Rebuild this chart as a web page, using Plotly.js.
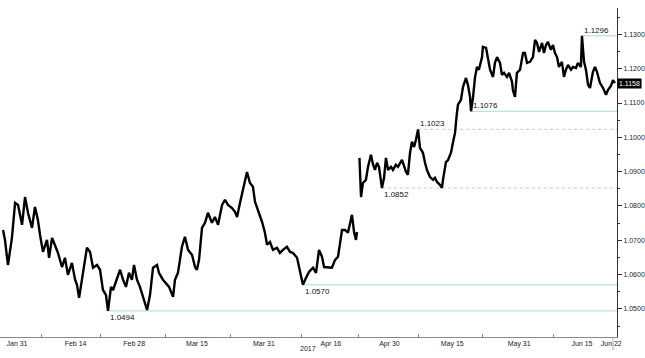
<!DOCTYPE html>
<html>
<head>
<meta charset="utf-8">
<script src="https://cdn.plot.ly/plotly-3.0.1.min.js"></script>
<style>html,body{margin:0;padding:0;background:#fff;}#chart{width:645px;height:358px;}</style>
</head>
<body>
<div id="chart"></div>
<script>
// EUR/USD, late Jan - Jun 2017
const dates = [
"2017-01-27 16:00","2017-01-28 03:00","2017-01-28 20:00","2017-01-29 19:00","2017-01-30 13:00","2017-01-31 06:00","2017-02-01 05:00","2017-02-01 22:00","2017-02-02 15:00","2017-02-03 14:00",
"2017-02-04 07:00","2017-02-05 00:00","2017-02-05 12:00","2017-02-06 05:00","2017-02-07 04:00","2017-02-07 16:00","2017-02-08 09:00","2017-02-09 02:00","2017-02-09 19:00","2017-02-10 18:00",
"2017-02-11 11:00","2017-02-12 04:00","2017-02-13 03:00","2017-02-13 21:00","2017-02-14 08:00","2017-02-14 20:00","2017-02-15 13:00","2017-02-16 06:00","2017-02-16 17:00","2017-02-17 11:00",
"2017-02-18 04:00","2017-02-19 03:00","2017-02-19 20:00","2017-02-20 13:00","2017-02-21 06:00","2017-02-21 18:00","2017-02-22 11:00","2017-02-22 23:00","2017-02-23 21:00","2017-02-24 15:00",
"2017-02-25 08:00","2017-02-26 01:00","2017-02-26 18:00","2017-02-27 11:00","2017-02-27 23:00","2017-02-28 16:00","2017-03-01 09:00","2017-03-02 03:00","2017-03-03 02:00","2017-03-03 19:00",
"2017-03-04 12:00","2017-03-05 11:00","2017-03-05 22:00","2017-03-06 21:00","2017-03-07 14:00","2017-03-08 08:00","2017-03-09 07:00","2017-03-09 18:00","2017-03-10 11:00","2017-03-11 10:00",
"2017-03-12 03:00","2017-03-12 21:00","2017-03-13 20:00","2017-03-14 13:00","2017-03-15 00:00","2017-03-15 12:00","2017-03-16 05:00","2017-03-16 22:00","2017-03-17 15:00","2017-03-18 14:00",
"2017-03-19 07:00","2017-03-20 01:00","2017-03-21 00:00","2017-03-21 17:00","2017-03-22 10:00","2017-03-23 09:00","2017-03-24 02:00","2017-03-24 14:00","2017-03-25 07:00","2017-03-26 00:00",
"2017-03-26 23:00","2017-03-27 16:00","2017-03-28 09:00","2017-03-28 21:00","2017-03-29 14:00","2017-03-30 13:00","2017-03-31 06:00","2017-03-31 18:00","2017-04-01 11:00","2017-04-02 04:00",
"2017-04-03 03:00","2017-04-03 20:00","2017-04-04 13:00","2017-04-05 12:00","2017-04-06 06:00","2017-04-06 23:00","2017-04-07 22:00","2017-04-08 15:00","2017-04-09 08:00","2017-04-10 01:00",
"2017-04-10 19:00","2017-04-11 18:00","2017-04-12 11:00","2017-04-13 04:00","2017-04-13 21:00","2017-04-14 09:00","2017-04-15 08:00","2017-04-16 06:00","2017-04-17 00:00","2017-04-17 17:00",
"2017-04-18 16:00","2017-04-19 09:00","2017-04-20 02:00","2017-04-21 01:00","2017-04-21 13:00","2017-04-22 00:00","2017-04-22 06:00","2017-04-22 12:00","2017-04-22 20:00","2017-04-23 05:00",
"2017-04-23 16:00","2017-04-24 09:00","2017-04-24 21:00","2017-04-25 14:00","2017-04-26 02:00","2017-04-26 13:00","2017-04-27 01:00","2017-04-27 12:00","2017-04-28 05:00","2017-04-28 17:00",
"2017-04-29 04:00","2017-04-29 16:00","2017-04-30 09:00","2017-04-30 20:00","2017-05-01 13:00","2017-05-02 01:00","2017-05-03 00:00","2017-05-03 11:00","2017-05-03 23:00","2017-05-04 10:00",
"2017-05-04 22:00","2017-05-05 09:00","2017-05-05 21:00","2017-05-06 08:00","2017-05-06 20:00","2017-05-07 07:00","2017-05-08 00:00","2017-05-08 12:00","2017-05-08 23:00","2017-05-09 16:00",
"2017-05-10 10:00","2017-05-10 21:00","2017-05-11 09:00","2017-05-12 02:00","2017-05-12 13:00","2017-05-12 19:00","2017-05-13 12:00","2017-05-14 00:00","2017-05-14 17:00","2017-05-15 04:00",
"2017-05-15 16:00","2017-05-16 03:00","2017-05-16 09:00","2017-05-17 02:00","2017-05-17 14:00","2017-05-18 07:00","2017-05-18 18:00","2017-05-19 06:00","2017-05-19 12:00","2017-05-19 23:00",
"2017-05-20 11:00","2017-05-20 22:00","2017-05-21 09:00","2017-05-22 03:00","2017-05-22 08:00","2017-05-23 02:00","2017-05-23 13:00","2017-05-24 01:00","2017-05-24 18:00","2017-05-25 05:00",
"2017-05-25 17:00","2017-05-26 10:00","2017-05-26 21:00","2017-05-27 09:00","2017-05-28 02:00","2017-05-28 14:00","2017-05-29 07:00","2017-05-29 12:00","2017-05-30 00:00","2017-05-30 11:00",
"2017-05-31 05:00","2017-05-31 22:00","2017-06-01 09:00","2017-06-01 21:00","2017-06-02 14:00","2017-06-03 07:00","2017-06-03 19:00","2017-06-04 06:00","2017-06-04 18:00","2017-06-05 11:00",
"2017-06-05 22:00","2017-06-06 10:00","2017-06-06 21:00","2017-06-07 14:00","2017-06-08 02:00","2017-06-08 13:00","2017-06-09 01:00","2017-06-09 12:00","2017-06-10 05:00","2017-06-10 17:00",
"2017-06-11 04:00","2017-06-11 16:00","2017-06-12 09:00","2017-06-12 21:00","2017-06-13 14:00","2017-06-14 01:00","2017-06-14 18:00","2017-06-15 00:00","2017-06-15 12:00","2017-06-15 23:00",
"2017-06-16 11:00","2017-06-16 22:00","2017-06-17 15:00","2017-06-18 03:00","2017-06-18 14:00","2017-06-19 07:00","2017-06-20 01:00","2017-06-20 18:00","2017-06-21 05:00","2017-06-21 22:00","2017-06-22 10:00","2017-06-22 21:00"
];
const prices = [
1.0730,1.0701,1.0628,1.0707,1.0809,1.0803,1.0745,1.0826,1.0780,1.0736,
1.0797,1.0759,1.0716,1.0666,1.0701,1.0649,1.0707,1.0687,1.0663,1.0622,
1.0649,1.0599,1.0634,1.0585,1.0570,1.0532,1.0593,1.0652,1.0678,1.0666,
1.0620,1.0628,1.0614,1.0555,1.0541,1.0494,1.0564,1.0555,1.0585,1.0614,
1.0585,1.0564,1.0605,1.0585,1.0628,1.0585,1.0564,1.0535,1.0497,1.0541,
1.0620,1.0628,1.0605,1.0585,1.0576,1.0564,1.0535,1.0585,1.0605,1.0681,
1.0710,1.0672,1.0657,1.0622,1.0614,1.0643,1.0736,1.0751,1.0780,1.0751,
1.0768,1.0745,1.0803,1.0818,1.0803,1.0794,1.0783,1.0768,1.0809,1.0847,
1.0899,1.0867,1.0856,1.0812,1.0789,1.0754,1.0722,1.0687,1.0695,1.0672,
1.0678,1.0663,1.0672,1.0681,1.0666,1.0663,1.0649,1.0605,1.0570,1.0590,
1.0608,1.0620,1.0605,1.0672,1.0652,1.0622,1.0620,1.0620,1.0643,1.0652,
1.0730,1.0730,1.0722,1.0774,1.0724,1.0701,1.0724,null,1.0940,1.0826,
1.0867,1.0876,1.0914,1.0949,1.0920,1.0905,1.0926,1.0914,1.0852,1.0882,
1.0940,1.0905,1.0914,1.0905,1.0920,1.0914,1.0934,1.0920,1.0899,1.0891,
1.0955,1.0987,1.0972,1.0993,1.1023,1.0969,1.0955,1.0926,1.0905,1.0885,
1.0876,1.0882,1.0870,1.0861,1.0853,1.0876,1.0928,1.0934,1.0955,1.0984,
1.1013,1.1071,1.1095,1.1109,1.1147,1.1173,1.1153,1.1118,1.1076,1.1115,
1.1176,1.1205,1.1197,1.1234,1.1264,1.1261,1.1226,1.1197,1.1176,1.1217,
1.1234,1.1217,1.1182,1.1188,1.1176,1.1188,1.1162,1.1138,1.1118,1.1188,
1.1197,1.1246,1.1246,1.1217,1.1220,1.1234,1.1284,1.1275,1.1249,1.1275,
1.1246,1.1269,1.1278,1.1255,1.1269,1.1246,1.1234,1.1205,1.1220,1.1176,
1.1197,1.1211,1.1197,1.1205,1.1202,1.1217,1.1205,1.1296,1.1220,1.1197,
1.1153,1.1144,1.1191,1.1205,1.1191,1.1159,1.1144,1.1124,1.1138,1.1150,1.1167,1.1158
];

// key levels marked on the chart
const levelValues = [1.0494, 1.0570, 1.0852, 1.1023, 1.1076, 1.1296];
const levelStart  = ["2017-02-21 18:00","2017-04-09 08:00","2017-04-28 05:00","2017-05-06 20:00","2017-05-19 12:00","2017-06-15 00:00"];
const levelDashed = [false, false, true, true, false, false];
const levelBelow  = [true, true, true, false, false, false];
const lastPrice = 1.1158;

// axis labels
const xTickVals = ["2017-01-31","2017-02-14","2017-02-28","2017-03-15","2017-03-31","2017-04-16","2017-04-30","2017-05-15","2017-05-31","2017-06-15","2017-06-22"];
const xTickText = ["Jan 31","Feb 14","Feb 28","Mar 15","Mar 31","Apr 16","Apr 30","May 15","May 31","Jun 15","Jun 22"];
const xSepVals  = ["2017-02-05 18:00","2017-02-19 20:00","2017-03-07 14:00","2017-03-22 22:00","2017-04-08 21:00","2017-04-22 17:00","2017-05-06 20:00","2017-05-22 08:00","2017-06-08 02:00"];
const yearLabel = "2017";

const xRange = ["2017-01-26 22:30","2017-06-23 09:00"];
const lvlColor = "#a9dcc6";
const FONT = "Liberation Sans, Arial, sans-serif";

const shapes = levelValues.map((v,i)=>({
  type:"line", xref:"x", yref:"y", x0:levelStart[i], x1:xRange[1], y0:v, y1:v,
  line:{color:lvlColor, width:1, dash: levelDashed[i] ? "3px,3px" : "solid"}, layer:"below"
}));
shapes.push({type:"line", xref:"paper", yref:"paper", x0:0.9935, x1:0.9935, y0:-0.004, y1:-0.04, line:{color:"#aaa", width:1}});

const annotations = levelValues.map((v,i)=>({
  x:levelStart[i], y:v, xref:"x", yref:"y", text:v.toFixed(4), showarrow:false,
  xanchor:"left", yanchor: levelBelow[i] ? "top" : "bottom", xshift:0, yshift: levelBelow[i] ? 0 : -1,
  font:{family:FONT, size:8, color:"#111"}
}));
annotations.push({
  x:1, y:lastPrice, xref:"paper", yref:"y", text:lastPrice.toFixed(4), showarrow:false,
  xanchor:"left", yanchor:"middle", xshift:0, bgcolor:"#000", borderpad:1,
  font:{family:FONT, size:7, color:"#fff"}
});
annotations.push({
  x:0.499, y:-0.036, xref:"paper", yref:"paper", text:yearLabel, showarrow:false,
  xanchor:"center", yanchor:"middle", font:{family:FONT, size:7, color:"#222"}
});

const trace = {
  x: dates, y: prices, type:"scatter", mode:"lines", connectgaps:false,
  line:{color:"#000", width:2.4}, hoverinfo:"skip"
};

const layout = {
  width:645, height:358,
  margin:{l:0, r:28, t:8, b:21, pad:0},
  paper_bgcolor:"#fff", plot_bgcolor:"#fff",
  showlegend:false,
  font:{family:FONT, size:7, color:"#222"},
  xaxis:{
    type:"date", range:xRange, tickmode:"array", tickvals:xTickVals, ticktext:xTickText,
    ticks:"", showgrid:false, zeroline:false, showline:true, linecolor:"#888", linewidth:1,
    tickfont:{family:FONT, size:7, color:"#222"},
    minor:{tickmode:"array", tickvals:xSepVals, ticks:"inside", ticklen:3, tickcolor:"#888", showgrid:false}
  },
  yaxis:{
    side:"right", range:[1.0418, 1.1377], tick0:1.05, dtick:0.01, tickformat:".4f",
    ticks:"outside", ticklen:4, tickcolor:"#333", showgrid:false, zeroline:false,
    showline:true, linecolor:"#333", linewidth:1,
    tickfont:{family:FONT, size:7, color:"#222"},
    minor:{dtick:0.005, ticks:"outside", ticklen:2, tickcolor:"#333", showgrid:false}
  },
  shapes: shapes,
  annotations: annotations
};

Plotly.newPlot("chart", [trace], layout, {displayModeBar:false, staticPlot:true});
</script>
</body>
</html>
